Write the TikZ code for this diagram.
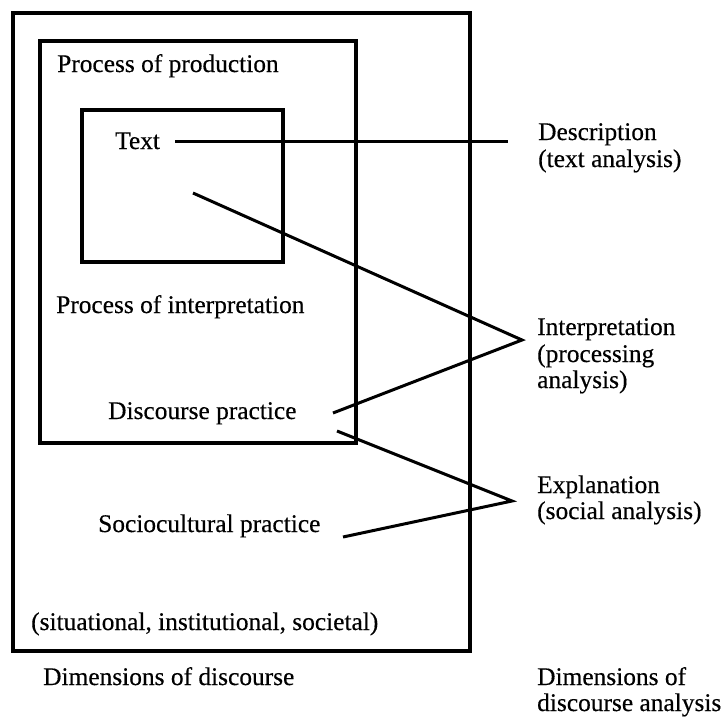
\documentclass[tikz,border=0pt]{standalone}
\usepackage{fontspec}
\setmainfont{Liberation Serif}[RawFeature={embolden=0.4}]
\begin{document}
\begin{tikzpicture}[x=1pt,y=-1pt,
  lbl/.style={anchor=base west,inner sep=0pt,font=\fontsize{25.4}{27}\selectfont},
  frame/.style={draw=black,line width=3.3pt},
  conn/.style={draw=black,line width=3pt,line join=miter}]
\useasboundingbox (0,0) rectangle (722,718);
% frames
\draw[frame] (13,13) rectangle (470,651);
\draw[frame] (40,41) rectangle (356,443);
\draw[frame] (82,110) rectangle (283,262);
% left labels
\node[lbl] (prod) at (57,72) {Process of production};
\node[lbl] (text) at (115,149) {Text};
\node[lbl] (interp) at (56,313) {Process of interpretation};
\node[lbl] (dp) at (108,419) {Discourse practice};
\node[lbl] (sp) at (98,532) {Sociocultural practice};
\node[lbl] (sit) at (31,630) {(situational, institutional, societal)};
\node[lbl] (dim) at (43,685) {Dimensions of discourse};
% right labels
\node[lbl] (desc1) at (538,140) {Description};
\node[lbl] (desc2) at (538,167) {(text analysis)};
\node[lbl] (int1) at (537,335) {Interpretation};
\node[lbl] (int2) at (537,362) {(processing};
\node[lbl] (int3) at (537,388) {analysis)};
\node[lbl] (exp1) at (537,493) {Explanation};
\node[lbl] (exp2) at (537,519) {(social analysis)};
\node[lbl] (dda1) at (537,685) {Dimensions of};
\node[lbl] (dda2) at (537,711) {discourse analysis};
% connector points
\coordinate (ts) at (175,141);
\coordinate (te) at (508,141);
\coordinate (ia) at (193,193);
\coordinate (itip) at (522,340);
\coordinate (ib) at (333,413);
\coordinate (ea) at (337,431);
\coordinate (etip) at (512,501);
\coordinate (eb) at (343,537);
\draw[conn] (ts) -- (te);
\draw[conn] (ia) -- (itip) -- (ib);
\draw[conn] (ea) -- (etip) -- (eb);
\end{tikzpicture}
\end{document}
